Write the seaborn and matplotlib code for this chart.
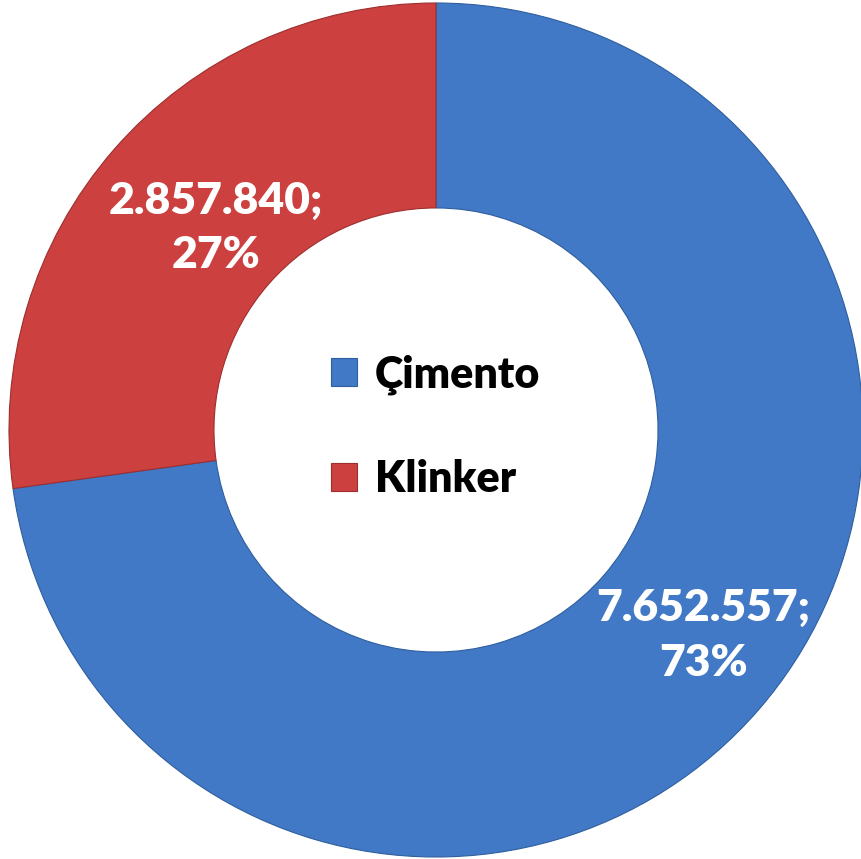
import matplotlib.pyplot as plt
import seaborn as sns
from matplotlib.patches import Patch
import numpy as np

# Data
categories = ["Çimento", "Klinker"]
values = [7652557, 2857840]
percents = [73, 27]
colors = ["#4179C6", "#CC4040"]
edge_colors = ["#2F5E9E", "#9E2E2E"]

sns.set_theme(style="white")
plt.rcParams["font.family"] = ["Lato", "DejaVu Sans"]

fig = plt.figure(figsize=(8.62, 8.59), dpi=100)
ax = fig.add_axes([0, 0, 1, 1])

wedges, texts, autotexts = ax.pie(
    values, colors=colors, startangle=90, counterclock=False,
    radius=1.0, autopct="%.0f%%", pctdistance=0.75,
    wedgeprops=dict(width=0.48, linewidth=0.8),
    textprops=dict(color="white", fontsize=32, fontweight="heavy"),
)
for w, ec in zip(wedges, edge_colors):
    w.set_edgecolor(ec)

# value labels, nudged to match the reference positions
for t, w, v, p, r, da in zip(autotexts, wedges, values, percents, [0.79, 0.70], [3.5, -1.5]):
    t.set_text("{:,}".format(v).replace(",", ".") + ";\n" + "{}%".format(p))
    ang = np.deg2rad((w.theta1 + w.theta2) / 2 + da)
    t.set_position((r * np.cos(ang), r * np.sin(ang)))
    t.set_linespacing(1.45)

ax.set_xlim(-436 / 427, (862 - 436) / 427)
ax.set_ylim(-(859 - 430) / 427, 430 / 427)
ax.set_aspect("equal")
ax.axis("off")

handles = [Patch(facecolor=c, edgecolor=e, linewidth=0.8) for c, e in zip(colors, edge_colors)]
leg = ax.legend(handles, categories, loc="center", bbox_to_anchor=(0.505, 0.503),
                frameon=False, prop=dict(size=31, weight="heavy"),
                labelspacing=1.5, handlelength=0.62, handleheight=0.62,
                handletextpad=0.4)
for t in leg.get_texts():
    t.set_color("black")

plt.savefig("out.png", dpi=100)
plt.close()
